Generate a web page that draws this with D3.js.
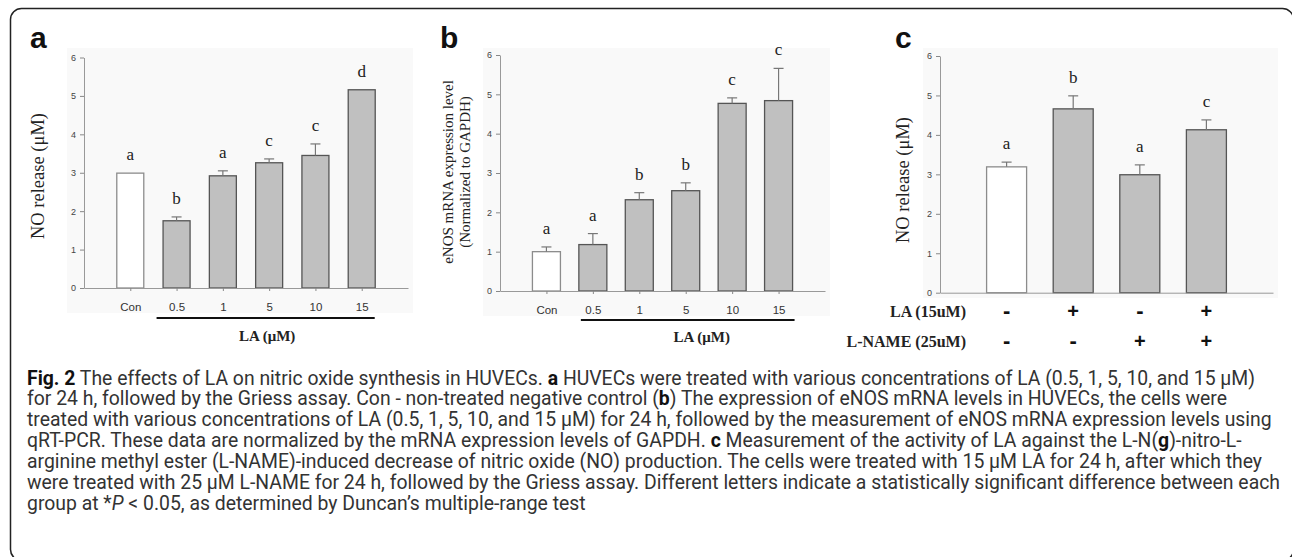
<!DOCTYPE html>
<html>
<head>
<meta charset="utf-8">
<script src="https://cdn.jsdelivr.net/npm/d3@7"></script>
<style>
  body { margin: 0; background: #fff; }
  svg { display: block; }
</style>
</head>
<body>
<svg id="fig" width="1292" height="557"></svg>
<script>
// ---- data ----
const doseCats = ["Con", "0.5", "1", "5", "10", "15"];
const noRelease = [2.99, 1.75, 2.92, 3.26, 3.45, 5.16];
const noReleaseErr = [0, 0.10, 0.13, 0.10, 0.30, 0];
const lettersA = ["a", "b", "a", "c", "c", "d"];

const enosLevel = [1.00, 1.18, 2.32, 2.55, 4.77, 4.84];
const enosErr = [0.12, 0.28, 0.18, 0.20, 0.14, 0.82];
const lettersB = ["a", "a", "b", "b", "c", "c"];

const groupsC = ["g1", "g2", "g3", "g4"];
const laSigns = ["-", "+", "-", "+"];
const lnameSigns = ["-", "-", "+", "+"];
const noReleaseC = [3.19, 4.66, 2.99, 4.13];
const noReleaseCErr = [0.12, 0.33, 0.25, 0.25];
const lettersC = ["a", "b", "a", "c"];

const yTicks = [0, 1, 2, 3, 4, 5, 6];

const serif = "'Liberation Serif', 'Times New Roman', serif";
const sans = "'Liberation Sans', Arial, sans-serif";
const barGrey = "#c0c0c0";

const svg = d3.select("#fig");

// outer frame (right and bottom edges fall just outside the picture)
svg.append("rect")
  .attr("x", 10.5).attr("y", 8.5)
  .attr("width", 1283).attr("height", 552)
  .attr("rx", 11)
  .attr("fill", "none").attr("stroke", "#222").attr("stroke-width", 1.5);

function panel(opt) {
  const g = svg.append("g");
  const x = d3.scalePoint().domain(opt.cats).range([opt.x0, opt.x1]).padding(1);
  const y = d3.scaleLinear().domain([0, 6]).range([opt.y0, opt.y6]);
  const rows = opt.values.map((v, i) => ({ cat: opt.cats[i], v, e: opt.errs[i], letter: opt.letters[i], i }));

  // faint backdrop of the pasted plot
  g.append("rect")
    .attr("x", opt.x0 - 17).attr("y", 48)
    .attr("width", opt.x1 - opt.x0 + 22).attr("height", opt.bgBottom - 48)
    .attr("fill", "#f9f9f9");

  // bars
  g.selectAll(".bar").data(rows)
    .join("rect").attr("class", "bar")
    .attr("x", d => x(d.cat) - opt.bw / 2)
    .attr("width", opt.bw)
    .attr("y", d => y(d.v))
    .attr("height", d => y(0) - y(d.v))
    .attr("fill", d => d.i === 0 ? "#fff" : barGrey)
    .attr("stroke", d => d.i === 0 ? "#8c8c8c" : "#555")
    .attr("stroke-width", 1.3);

  // error bars (upper only)
  const err = g.selectAll(".err").data(rows.filter(d => d.e > 0))
    .join("g").attr("class", "err")
    .attr("stroke", "#777").attr("stroke-width", 1.2);
  err.append("line")
    .attr("x1", d => x(d.cat)).attr("x2", d => x(d.cat))
    .attr("y1", d => y(d.v)).attr("y2", d => y(d.v + d.e));
  err.append("line")
    .attr("x1", d => x(d.cat) - 5).attr("x2", d => x(d.cat) + 5)
    .attr("y1", d => y(d.v + d.e)).attr("y2", d => y(d.v + d.e));

  // significance letters
  g.selectAll(".sig").data(rows)
    .join("text").attr("class", "sig")
    .attr("x", d => x(d.cat))
    .attr("y", d => y(d.v + d.e) - 13)
    .attr("text-anchor", "middle")
    .attr("font-family", serif).attr("font-size", 17).attr("fill", "#222")
    .text(d => d.letter);

  // y axis
  const ya = g.append("g")
    .attr("transform", `translate(${opt.x0},0)`)
    .call(d3.axisLeft(y).tickValues(yTicks).tickFormat(d3.format("d"))
      .tickSize(4).tickSizeOuter(0).tickPadding(4));
  ya.select(".domain").attr("stroke", "#999");
  ya.selectAll(".tick line").attr("stroke", "#888");
  ya.selectAll(".tick text").attr("font-family", sans).attr("font-size", 9).attr("fill", "#444");

  // x axis
  const xa = g.append("g")
    .attr("transform", `translate(0,${opt.y0})`)
    .call(d3.axisBottom(x).tickSize(opt.xTickLabels ? 3 : 0).tickSizeOuter(0).tickPadding(12)
      .tickFormat(opt.xTickLabels ? (d => d) : ""));
  xa.select(".domain").attr("stroke", "#999");
  xa.selectAll(".tick line").attr("stroke", "#888");
  xa.selectAll(".tick text").attr("font-family", sans).attr("font-size", 11.5).attr("fill", "#333");

  // panel letter
  g.append("text")
    .attr("x", opt.letterX).attr("y", 48)
    .attr("font-family", sans).attr("font-weight", "bold").attr("font-size", 30)
    .attr("fill", "#111")
    .text(opt.panelLetter);

  return { g, x, y };
}

// ---- panel a ----
const pa = panel({
  cats: doseCats, values: noRelease, errs: noReleaseErr, letters: lettersA,
  x0: 84, x1: 408, y0: 288, y6: 57.5, bw: 27, bgBottom: 313,
  xTickLabels: true, panelLetter: "a", letterX: 30
});
pa.g.append("text")
  .attr("transform", "translate(38,176) rotate(-90)")
  .attr("text-anchor", "middle").attr("dominant-baseline", "central")
  .attr("font-family", serif).attr("font-size", 18.5).attr("fill", "#222")
  .text("NO release (μM)");
pa.g.append("line")
  .attr("x1", pa.x("0.5") - 20).attr("x2", pa.x("15") + 13)
  .attr("y1", 318).attr("y2", 318)
  .attr("stroke", "#111").attr("stroke-width", 2.2);
pa.g.append("text")
  .attr("x", (pa.x("0.5") + pa.x("15")) / 2 - 2).attr("y", 341)
  .attr("text-anchor", "middle")
  .attr("font-family", serif).attr("font-weight", "bold").attr("font-size", 15).attr("fill", "#222")
  .text("LA (μM)");

// ---- panel b ----
const pb = panel({
  cats: doseCats, values: enosLevel, errs: enosErr, letters: lettersB,
  x0: 500, x1: 825, y0: 291, y6: 55, bw: 28, bgBottom: 316,
  xTickLabels: true, panelLetter: "b", letterX: 440
});
const tb = pb.g.append("text")
  .attr("transform", "translate(448,172) rotate(-90)")
  .attr("text-anchor", "middle")
  .attr("font-family", serif).attr("font-size", 15).attr("fill", "#222");
tb.append("tspan").attr("x", 0).attr("dy", "0.35em").text("eNOS mRNA expression level");
tb.append("tspan").attr("x", 0).attr("dy", 17).text("(Normalized to GAPDH)");
pb.g.append("line")
  .attr("x1", pb.x("0.5") - 12).attr("x2", pb.x("15") + 16)
  .attr("y1", 320).attr("y2", 320)
  .attr("stroke", "#111").attr("stroke-width", 2.2);
pb.g.append("text")
  .attr("x", (pb.x("0.5") + pb.x("15")) / 2 + 16).attr("y", 342)
  .attr("text-anchor", "middle")
  .attr("font-family", serif).attr("font-weight", "bold").attr("font-size", 15).attr("fill", "#222")
  .text("LA (μM)");

// ---- panel c ----
const pc = panel({
  cats: groupsC, values: noReleaseC, errs: noReleaseCErr, letters: lettersC,
  x0: 940, x1: 1273, y0: 292.7, y6: 56, bw: 40, bgBottom: 298,
  xTickLabels: false, panelLetter: "c", letterX: 895
});
pc.g.append("text")
  .attr("transform", "translate(903,180) rotate(-90)")
  .attr("text-anchor", "middle").attr("dominant-baseline", "central")
  .attr("font-family", serif).attr("font-size", 18.5).attr("fill", "#222")
  .text("NO release (μM)");

const rowLabels = ["LA (15uM)", "L-NAME (25uM)"];
const rowSigns = [laSigns, lnameSigns];
const rowY = [317, 347];
rowLabels.forEach((lab, r) => {
  pc.g.append("text")
    .attr("x", 966).attr("y", rowY[r])
    .attr("text-anchor", "end")
    .attr("font-family", serif).attr("font-weight", "bold").attr("font-size", 16).attr("fill", "#222")
    .text(lab);
  pc.g.selectAll(".sign" + r).data(rowSigns[r])
    .join("text").attr("class", "sign" + r)
    .attr("x", (d, i) => pc.x(groupsC[i]))
    .attr("y", rowY[r] + 1)
    .attr("text-anchor", "middle")
    .attr("font-family", sans).attr("font-weight", "bold")
    .attr("font-size", d => d === "+" ? 20 : 22).attr("fill", "#111")
    .text(d => d);
});

// ---- caption ----
const captionLines = [
  [["Fig. 2", "b"], [" The effects of LA on nitric oxide synthesis in HUVECs. "], ["a", "b"], [" HUVECs were treated with various concentrations of LA (0.5, 1, 5, 10, and 15 μM)"]],
  [["for 24 h, followed by the Griess assay. Con - non-treated negative control ("], ["b", "b"], [") The expression of eNOS mRNA levels in HUVECs, the cells were"]],
  [["treated with various concentrations of LA (0.5, 1, 5, 10, and 15 μM) for 24 h, followed by the measurement of eNOS mRNA expression levels using"]],
  [["qRT-PCR. These data are normalized by the mRNA expression levels of GAPDH. "], ["c", "b"], [" Measurement of the activity of LA against the L-N("], ["g", "b"], [")-nitro-L-"]],
  [["arginine methyl ester (L-NAME)-induced decrease of nitric oxide (NO) production. The cells were treated with 15 μM LA for 24 h, after which they"]],
  [["were treated with 25 μM L-NAME for 24 h, followed by the Griess assay. Different letters indicate a statistically significant difference between each"]],
  [["group at *"], ["P", "i"], [" < 0.05, as determined by Duncan’s multiple-range test"]]
];
const cap = svg.append("g")
  .attr("font-family", "Roboto, 'Open Sans', sans-serif")
  .attr("font-size", 16).attr("fill", "#333");
const capTexts = captionLines.map((segs, li) => {
  const t = cap.append("text").attr("x", 27).attr("y", 384.5 + li * 20.95).attr("xml:space", "preserve");
  segs.forEach(s => {
    const sp = t.append("tspan").text(s[0]);
    if (s[1] === "b") sp.attr("font-weight", "bold").attr("fill", "#111");
    if (s[1] === "i") sp.attr("font-style", "italic");
  });
  return t;
});
// size the caption so its widest line spans what the figure shows
const w3 = capTexts[2].node().getComputedTextLength();
cap.attr("font-size", 16 * 1245 / w3);
</script>
</body>
</html>
